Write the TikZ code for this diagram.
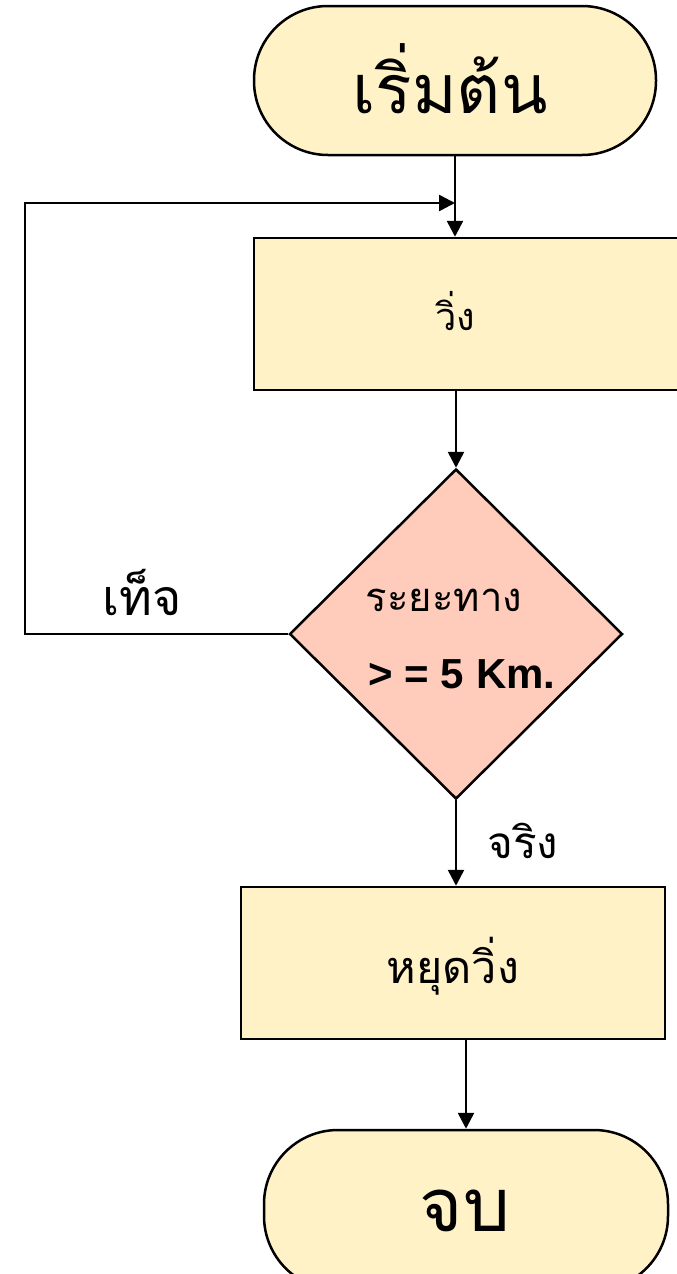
\documentclass[tikz,border=0pt]{standalone}
\usepackage{fontspec}
\newfontfamily\thaifont[Script=Thai]{Loma}
\newfontfamily\sansb{Liberation Sans Bold}
\usetikzlibrary{shapes.geometric,arrows.meta}
\definecolor{termfill}{RGB}{255,242,199}
\definecolor{decfill}{RGB}{255,204,188}
\newcommand{\thsz}[1]{\fontsize{#1}{#1}\selectfont}
\tikzset{
  arrowline/.style={line width=2.6pt, draw=black, -{Triangle[length=16pt,width=16pt]}},
  termbox/.style={draw=black, line width=2.5pt, fill=termfill, rounded corners=74pt, inner sep=0pt},
  procbox/.style={draw=black, line width=2.5pt, fill=termfill, inner sep=0pt},
  decbox/.style={diamond, draw=black, line width=2.5pt, fill=decfill, inner sep=0pt},
  thtext/.style={anchor=base, inner sep=0pt, font=\thaifont},
}
\begin{document}
\begin{tikzpicture}[x=1pt,y=-1pt]
\useasboundingbox (0,0) rectangle (677,1274);
\clip (0,0) rectangle (677,1274);
% shapes
\node[termbox, minimum width=402pt, minimum height=149pt] (start) at (455,80.5) {};
\node[procbox, minimum width=430pt, minimum height=152pt] (run) at (469,314) {};
\node[decbox, minimum width=333pt, minimum height=330pt] (dec) at (456,634) {};
\node[procbox, minimum width=424pt, minimum height=152pt] (stop) at (453,963) {};
\node[termbox, minimum width=404pt, minimum height=160pt] (end) at (466,1210) {};
% texts
\node[thtext, font=\thaifont\thsz{68}] (starttext) at (450,113) {เริ่มต้น};
\node[thtext, font=\thaifont\thsz{38}] (runtext) at (455,330) {วิ่ง};
\node[thtext, font=\thaifont\thsz{40}] (disttext) at (444,611) {ระยะทาง};
\node[anchor=base, inner sep=0pt, font=\sansb\fontsize{42}{42}\selectfont] (condtext) at (462,688) {> = 5 Km.};
\node[thtext, font=\thaifont\thsz{45}] (stoptext) at (453,983) {หยุดวิ่ง};
\node[thtext, font=\thaifont\thsz{74}] (endtext) at (465,1231) {จบ};
\node[thtext, font=\thaifont\thsz{50}] (falselbl) at (142,615) {เท็จ};
\node[thtext, font=\thaifont\thsz{44}] (truelbl) at (523,858) {จริง};
% connectors
\coordinate (c1) at (25,634);
\coordinate (c2) at (25,203);
\draw[arrowline] (start.south) -- (start.south |- run.north);
\draw[arrowline] (dec.west) -- (c1) -- (c2) -- (c2 -| start.south);
\draw[arrowline] (dec.north |- run.south) -- (dec.north);
\draw[arrowline] (dec.south) -- (dec.south |- stop.north);
\draw[arrowline] (end.north |- stop.south) -- (end.north);
\end{tikzpicture}
\end{document}
